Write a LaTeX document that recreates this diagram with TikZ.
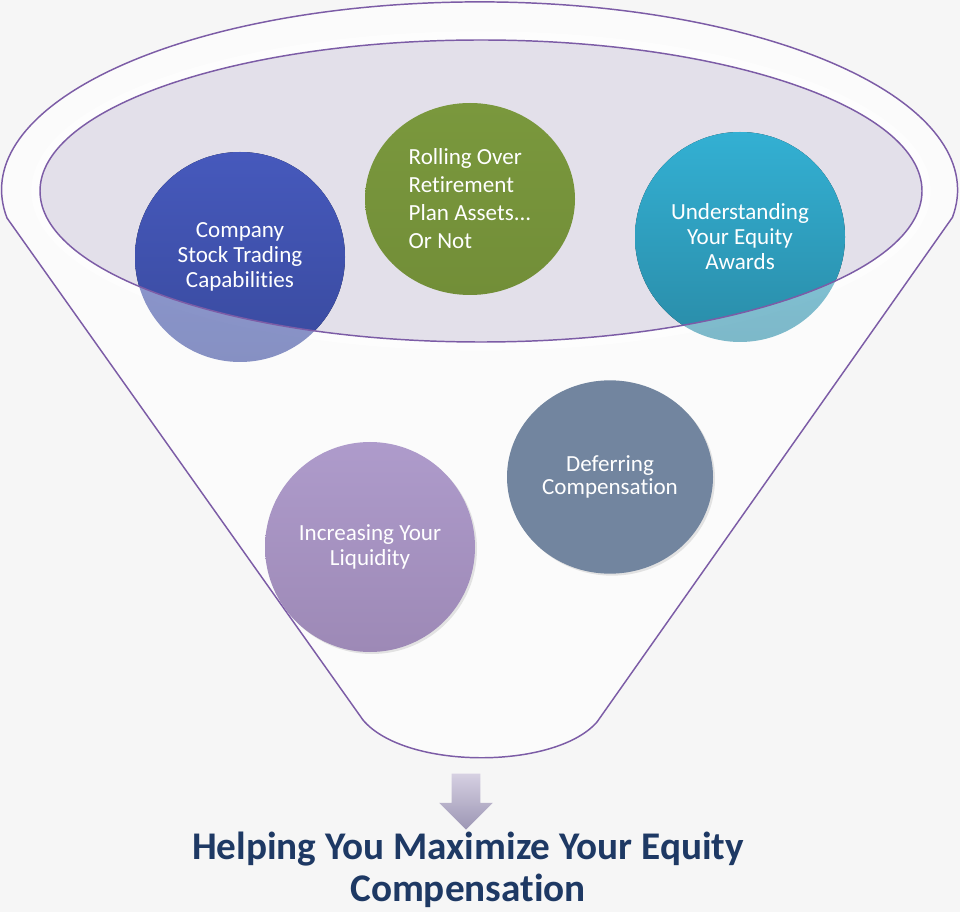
\documentclass[tikz,border=0pt]{standalone}
\usepackage{fontspec}
\setmainfont{Carlito}[Ligatures=NoCommon]
\usetikzlibrary{shapes.geometric, shapes.arrows, shadows}

\definecolor{paper}{RGB}{246,246,246}
\definecolor{funnelline}{RGB}{124,92,166}
\definecolor{lensfill}{RGB}{222,218,230}
\definecolor{companytop}{RGB}{70,89,188}
\definecolor{companybot}{RGB}{57,74,158}
\definecolor{rollingtop}{RGB}{122,152,61}
\definecolor{rollingbot}{RGB}{114,142,56}
\definecolor{equitytop}{RGB}{51,176,211}
\definecolor{equitybot}{RGB}{42,140,168}
\definecolor{deferfill}{RGB}{114,133,159}
\definecolor{liquidtop}{RGB}{174,155,203}
\definecolor{liquidbot}{RGB}{157,137,182}
\definecolor{arrowtop}{RGB}{214,208,226}
\definecolor{arrowbot}{RGB}{156,150,180}
\definecolor{titleblue}{RGB}{30,57,100}

\begin{document}
\begin{tikzpicture}[x=0.75pt,y=0.75pt,yscale=-1,xscale=1,
  bubble/.style={circle, inner sep=0pt, minimum size=157.5pt, align=center, text=white,
    font=\fontsize{17.3}{18.75}\selectfont},
  lens/.style={draw=funnelline, line width=1.1pt},
  downarrow/.style={single arrow, shape border rotate=270, inner sep=10.5pt, minimum height=42pt,
    single arrow head extend=9.4pt, top color=arrowtop, bottom color=arrowbot},
  headline/.style={align=center, text=titleblue, font=\bfseries\fontsize{29.4}{31.5}\selectfont}]
\useasboundingbox (0,0) rectangle (960,912);
\fill[paper] (0,0) rectangle (960,912);

%Funnel outline
\draw[funnelline, line width=1.1pt, fill=white, fill opacity=0.6] (7,218) arc [start angle=171.4, end angle=368.4, x radius=478, y radius=188] -- (597,722) .. controls (555,770) and (405,770) .. (363,720) -- cycle;

%Top lens of the funnel
\draw[white, line width=7pt, opacity=0.6] (481,191) ellipse [x radius=445, y radius=155];
\fill[lensfill, opacity=0.8] (481,191) ellipse [x radius=441, y radius=151];

%Centres of the bubbles
\coordinate (company-c) at (240,257);
\coordinate (rolling-c) at (470,199);
\coordinate (equity-c) at (740,237);

%Full colour inside the lens only
\begin{scope}
\clip (481,191) ellipse [x radius=441, y radius=151];
\fill[top color=companytop, bottom color=companybot] (company-c) circle [radius=105];
\fill[top color=equitytop, bottom color=equitybot] (equity-c) circle [radius=105];
\end{scope}

% Bubbles
\node[bubble, top color=companytop, bottom color=companybot, fill opacity=0.6, text opacity=1] (company) at (company-c) {Company\\Stock Trading\\Capabilities};
\node[bubble, ellipse, minimum width=157.5pt, minimum height=144pt, top color=rollingtop, bottom color=rollingbot, align=left,
  font=\fontsize{17.3}{21}\selectfont] (rolling) at (rolling-c) {Rolling Over\\Retirement\\Plan Assets...\\Or Not};
\node[bubble, top color=equitytop, bottom color=equitybot, fill opacity=0.6, text opacity=1] (equity) at (equity-c) {Understanding\\Your Equity\\Awards};
\node[bubble, ellipse, minimum width=154.5pt, minimum height=145pt, fill=deferfill, drop shadow={opacity=0.2, shadow xshift=1.5pt, shadow yshift=-1.5pt},
  font=\fontsize{17.3}{17.25}\selectfont] (defer) at (610,477) {Deferring\\Compensation};
\node[bubble, top color=liquidtop, bottom color=liquidbot, drop shadow={opacity=0.2, shadow xshift=1.5pt, shadow yshift=-1.5pt}] (liquid) at (370,547) {Increasing Your\\Liquidity};

\draw[lens] (481,191) ellipse [x radius=441, y radius=151];

% Result
\node[downarrow, anchor=tip] (down) at (466,830) {};
\node[headline] (result) at (468,870) {Helping You Maximize Your Equity\\Compensation};

\end{tikzpicture}
\end{document}
